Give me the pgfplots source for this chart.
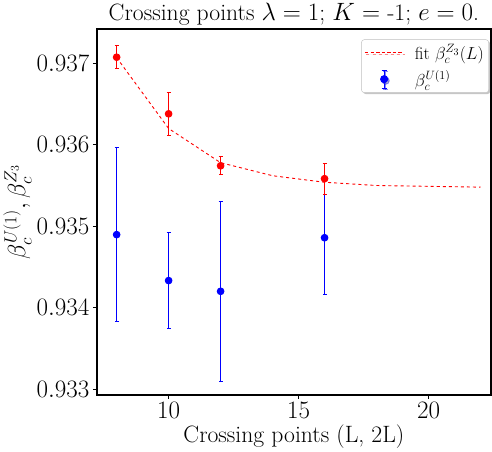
\documentclass[border=0pt]{standalone}
\usepackage{pgfplots}
\pgfplotsset{compat=1.18}
\usetikzlibrary{shadows}

\begin{document}
\begin{tikzpicture}
\begin{axis}[
  scale only axis,
  width=390bp, height=362bp,
  xmin=7.24, xmax=22.4,
  ymin=0.93293, ymax=0.93742,
  xtick={10,15,20},
  ytick={0.933,0.934,0.935,0.936,0.937},
  scaled y ticks=false,
  yticklabel style={/pgf/number format/fixed, /pgf/number format/fixed zerofill, /pgf/number format/precision=3},
  tick label style={font=\fontsize{23.5}{27}\selectfont},
  label style={font=\fontsize{23.5}{27}\selectfont},
  title style={font=\fontsize{23.5}{27}\selectfont, yshift=-6pt},
  title={Crossing points $\lambda=1$; $K=$ -1; $e=0$.},
  xlabel={Crossing points (L, 2L)},
  ylabel={$\beta_c^{U(1)}, \beta_c^{Z_3}$},
  xlabel style={yshift=1pt},
  ylabel style={yshift=-2pt},
  axis line style={line width=2.2pt},
  tick pos=left, tick align=outside,
  major tick length=4pt,
  tick style={black, line width=0.6pt},
  legend cell align=left,
  legend style={at={(0.995,0.972)}, anchor=north east, rounded corners=3pt,
    draw=black!25, fill=white,
    drop shadow={opacity=0.45, shadow xshift=1.5pt, shadow yshift=-1.5pt},
    font=\fontsize{17.28}{21}\selectfont, inner xsep=3pt, inner ysep=3pt, row sep=6pt,
    /tikz/every odd column/.append style={column sep=9pt}},
]
% fit curve
\addplot[red, dashed, line width=0.9pt,
  legend image code/.code={\draw[draw=red, line width=1.1pt, dash pattern=on 3.5pt off 2pt] (0bp,0bp) -- (38bp,0bp);}]
  coordinates {
  (8,0.93707) (10,0.93620) (12,0.93578) (14,0.93562) (16,0.93554)
  (18,0.93550) (20,0.93549) (22,0.93548)};
\addlegendentry{fit $\beta_c^{Z_3}(L)$}
% U(1) points
\addplot[blue, only marks, mark=*, mark size=3.3pt, line width=1pt,
  legend image code/.code={
    \draw[draw=blue, line width=1.2pt] (19bp,-9bp) -- (19bp,9bp);
    \draw[draw=blue, line width=1pt] (16.5bp,-9bp) -- (21.5bp,-9bp);
    \draw[draw=blue, line width=1pt] (16.5bp,9bp) -- (21.5bp,9bp);
    \fill[fill=blue] (19bp,0bp) circle (3.5pt);},
  error bars/.cd, y dir=both, y explicit,
  error bar style={blue, line width=1pt},
  error mark options={blue, rotate=90, mark size=2pt, line width=0.8pt},
  ] coordinates {
  (8,0.934897) +- (0,0.00107)
  (10,0.934333) +- (0,0.00059)
  (12,0.934201) +- (0,0.00110)
  (16,0.934859) +- (0,0.00070)
};
\addlegendentry{$\beta_c^{U(1)}$}
% Z3 points
\addplot[red, only marks, mark=*, mark size=3.3pt, line width=1pt, forget plot,
  error bars/.cd, y dir=both, y explicit,
  error bar style={red, line width=1pt},
  error mark options={red, rotate=90, mark size=2pt, line width=0.8pt},
  ] coordinates {
  (8,0.937075) +- (0,0.00014)
  (10,0.93638) +- (0,0.00026)
  (12,0.935742) +- (0,0.00011)
  (16,0.935584) +- (0,0.00019)
};
\end{axis}
\end{tikzpicture}
\end{document}
